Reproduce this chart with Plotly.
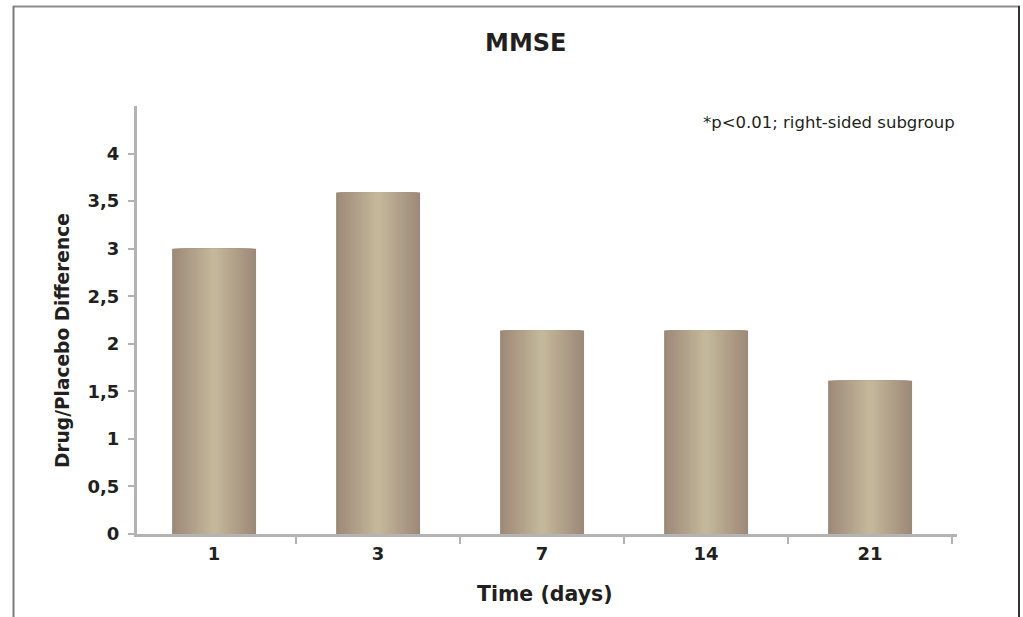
import plotly.graph_objs as go

# data
days = ['1', '3', '7', '14', '21']
difference = [3.0, 3.59, 2.14, 2.14, 1.61]
y_ticks = [0, 0.5, 1, 1.5, 2, 2.5, 3, 3.5, 4]

title_text = 'MMSE'
note_text = '*p<0.01; right-sided subgroup'
x_title = 'Time (days)'
y_title = 'Drug/Placebo Difference'

# page geometry (pixels) -> plot area
W, H = 1023, 617
L, R, T, B = 137, 957, 106, 534


def px(x):
    return (x - L) / (R - L)


def py(y):
    return (B - y) / (B - T)


edge_color = (156, 136, 120)
center_color = (197, 185, 155)
bar_width = 0.512
layers = 26
axis_color = '#b3b3b3'
text_color = '#231f20'
bold_font = 'DejaVu Sans'

data = []
# stacked overlay bars of shrinking width fake the horizontal gradient
for k in range(layers):
    w = bar_width * (1 - k / layers)
    w_next = bar_width * (1 - (k + 1) / layers)
    t = 1 - (w + w_next) / 2 / bar_width
    rgb = tuple(round(e + (c - e) * t) for e, c in zip(edge_color, center_color))
    data.append(go.Bar(
        x=days,
        y=difference,
        width=w,
        marker=dict(color='rgb(%d,%d,%d)' % rgb, line=dict(width=0)),
        hoverinfo='y' if k == layers - 1 else 'skip',
        showlegend=False,
    ))

layout = dict(
    template='none',
    width=W,
    height=H,
    paper_bgcolor='white',
    plot_bgcolor='white',
    barmode='overlay',
    separators=',.',
    margin=dict(l=L, r=W - R, t=T, b=H - B, pad=0),
    xaxis=dict(
        type='category',
        range=[-0.47, 4.53],
        showline=True,
        linecolor=axis_color,
        linewidth=2.5,
        showgrid=False,
        zeroline=False,
        ticks='outside',
        tickson='boundaries',
        ticklen=7,
        tickwidth=1.5,
        tickcolor=axis_color,
        ticklabelstandoff=2,
        tickfont=dict(family=bold_font, size=18, color=text_color, weight='bold'),
    ),
    yaxis=dict(
        range=[0, 4.5],
        tickvals=y_ticks,
        showline=True,
        linecolor=axis_color,
        linewidth=3,
        showgrid=False,
        zeroline=False,
        ticks='outside',
        ticklen=6,
        tickwidth=1.5,
        tickcolor=axis_color,
        ticklabelstandoff=5,
        tickfont=dict(family=bold_font, size=18, color=text_color, weight='bold'),
    ),
    annotations=[
        dict(text=title_text, xref='paper', yref='paper', x=px(525), y=py(43),
             xanchor='center', yanchor='middle', showarrow=False,
             font=dict(family=bold_font, size=24, color=text_color, weight='bold')),
        dict(text=note_text, xref='paper', yref='paper', x=px(957), y=py(122),
             xanchor='right', yanchor='middle', showarrow=False,
             font=dict(family='DejaVu Sans', size=16.5, color=text_color)),
        dict(text=x_title, xref='paper', yref='paper', x=px(545), y=py(594),
             xanchor='center', yanchor='middle', showarrow=False,
             font=dict(family=bold_font, size=20.5, color=text_color, weight='bold')),
        dict(text=y_title, xref='paper', yref='paper', x=px(62), y=py(341),
             xanchor='center', yanchor='middle', showarrow=False, textangle=-90,
             font=dict(family=bold_font, size=18.6, color=text_color, weight='bold')),
    ],
    shapes=[
        # page frame: top, left, right (no bottom edge in the picture)
        dict(type='line', xref='paper', yref='paper', x0=px(13), x1=px(1020), y0=py(6.5), y1=py(6.5),
             line=dict(color='#8c8c8c', width=2)),
        dict(type='line', xref='paper', yref='paper', x0=px(13.5), x1=px(13.5), y0=py(6), y1=py(H + 5),
             line=dict(color='#7a7a7a', width=2)),
        dict(type='line', xref='paper', yref='paper', x0=px(1019), x1=px(1019), y0=py(6), y1=py(H + 5),
             line=dict(color='#333333', width=2)),
    ],
)

fig = go.Figure(data=data, layout=layout)
# drop the default 8px body margin so the figure sits at the window corner
fig.write_html('out.html', config=dict(displayModeBar=False),
               post_script="document.body.style.margin='0';")
